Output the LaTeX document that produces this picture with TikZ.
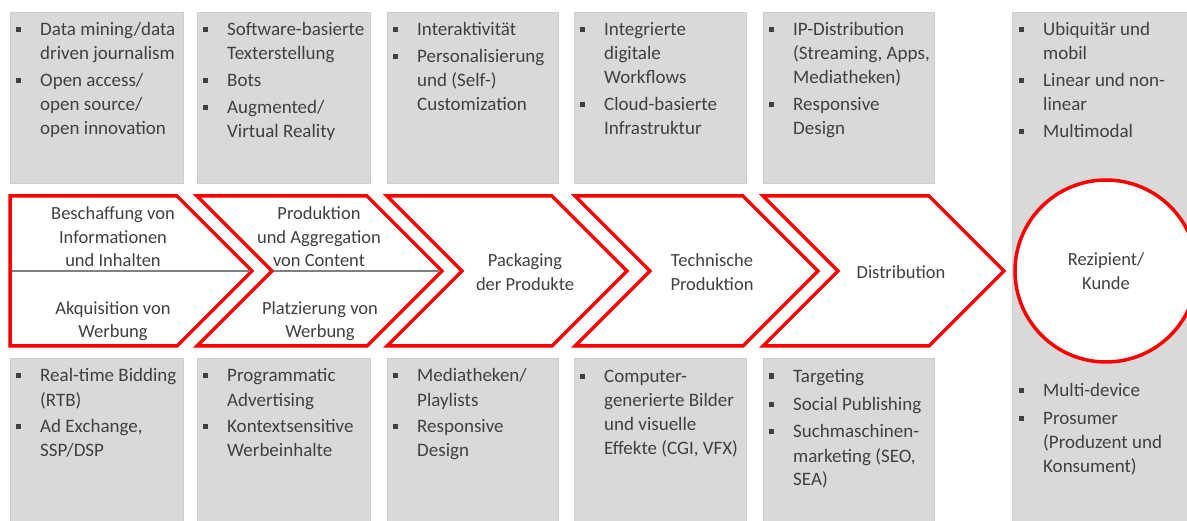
\documentclass[tikz,border=0pt]{standalone}
\usepackage{fontspec}
\setmainfont{Carlito}
\definecolor{boxgray}{HTML}{D9D9D9}
\definecolor{boxedge}{HTML}{CDCDCD}
\definecolor{txt}{HTML}{404040}
\definecolor{divgray}{HTML}{808080}
\definecolor{chred}{HTML}{FF0000}
\newcommand{\bl}{\llap{\textcolor{txt}{\rule[3.5pt]{5pt}{5pt}}\hspace{19pt}}}
\begin{document}
\begin{tikzpicture}[x=1pt,y=-1pt,
  gbox/.style={fill=boxgray, draw=boxedge, line width=0.6pt},
  blist/.style={anchor=north west, inner sep=0pt, align=left, text=txt, font=\fontsize{19}{24}\selectfont},
  chev/.style={draw=chred, line width=3.5pt, fill=white, line join=miter},
  divline/.style={draw=divgray, line width=1.5pt},
  ctext/.style={align=center, text=txt, inner sep=0pt, font=\fontsize{18.5}{23.5}\selectfont},
  endcircle/.style={circle, draw=chred, line width=3.5pt, fill=white, inner sep=0pt, minimum size=182pt, align=center, text=txt, font=\fontsize{18.5}{23.5}\selectfont}]
\useasboundingbox (0,0) rectangle (1187,521);
\begin{scope}
\clip (0,0) rectangle (1187,521);
% grey boxes, top row
\path[gbox] (10,12) rectangle (183,183);
\path[gbox] (197,12) rectangle (370,183);
\path[gbox] (387,12) rectangle (558,183);
\path[gbox] (574,12) rectangle (746,183);
\path[gbox] (763,12) rectangle (934,183);
% tall box on the right
\path[gbox] (1012,12) rectangle (1200,530);
% grey boxes, bottom row
\path[gbox] (10,358) rectangle (183,530);
\path[gbox] (197,358) rectangle (370,530);
\path[gbox] (387,358) rectangle (558,530);
\path[gbox] (574,358) rectangle (746,530);
\path[gbox] (763,358) rectangle (934,530);

% chevrons
\path[chev] (10,196) -- (177,196) -- (252,271) -- (177,346) -- (10,346) -- cycle;
\path[chev] (197,196) -- (367,196) -- (442,271) -- (367,346) -- (197,346) -- (272,271) -- cycle;
\path[chev] (387,196) -- (552,196) -- (627,271) -- (552,346) -- (387,346) -- (462,271) -- cycle;
\path[chev] (575,196) -- (743,196) -- (818,271) -- (743,346) -- (575,346) -- (650,271) -- cycle;
\path[chev] (763,196) -- (929,196) -- (1004,271) -- (929,346) -- (763,346) -- (838,271) -- cycle;
\path[divline] (12,271) -- (250,271);
\path[divline] (274,271) -- (440,271);

% end circle
\node[endcircle] (kunde) at (1106,271) {Rezipient/\\Kunde};

% chevron texts
\node[ctext] (c1top) at (113,237) {Beschaffung von\\Informationen\\und Inhalten};
\node[ctext] (c1bot) at (113,321) {Akquisition von\\Werbung};
\node[ctext] (c2top) at (319,237) {Produktion\\und Aggregation\\von Content};
\node[ctext] (c2bot) at (320,321) {Platzierung von\\Werbung};
\node[ctext] (c3) at (525,272) {Packaging\\der Produkte};
\node[ctext] (c4) at (712,272) {Technische\\Produktion};
\node[ctext] (c5) at (901,272) {Distribution};

% top lists
\node[blist] (t1) at (40,19) {\strut\bl Data mining/data\\driven journalism\\[3pt]\bl Open access/\\open source/\\open innovation};
\node[blist] (t2) at (227,19) {\strut\bl Software-basierte\\Texterstellung\\[3pt]\bl Bots\\[3pt]\bl Augmented/\\Virtual Reality};
\node[blist] (t3) at (417,19) {\strut\bl Interaktivität\\[3pt]\bl Personalisierung\\und (Self-)\\Customization};
\node[blist] (t4) at (604,19) {\strut\bl Integrierte\\digitale\\Workflows\\[3pt]\bl Cloud-basierte\\Infrastruktur};
\node[blist] (t5) at (793,19) {\strut\bl IP-Distribution\\(Streaming, Apps,\\Mediatheken)\\[3pt]\bl Responsive\\Design};
\node[blist] (t6) at (1043,19) {\strut\bl Ubiquitär und\\mobil\\[3pt]\bl Linear und non-\\linear\\[3pt]\bl Multimodal};

% bottom lists
\node[blist] (b1) at (40,365) {\strut\bl Real-time Bidding\\(RTB)\\[3pt]\bl Ad Exchange,\\SSP/DSP};
\node[blist] (b2) at (227,365) {\strut\bl Programmatic\\Advertising\\[3pt]\bl Kontextsensitive\\Werbeinhalte};
\node[blist] (b3) at (417,365) {\strut\bl Mediatheken/\\Playlists\\[3pt]\bl Responsive\\Design};
\node[blist] (b4) at (604,365) {\strut\bl Computer-\\generierte Bilder\\und visuelle\\Effekte (CGI, VFX)};
\node[blist] (b5) at (793,365) {\strut\bl Targeting\\[4pt]\bl Social Publishing\\[4pt]\bl Suchmaschinen-\\marketing (SEO,\\SEA)};
\node[blist] (b6) at (1043,379) {\strut\bl Multi-device\\[4pt]\bl Prosumer\\(Produzent und\\Konsument)};
\end{scope}
\end{tikzpicture}
\end{document}
